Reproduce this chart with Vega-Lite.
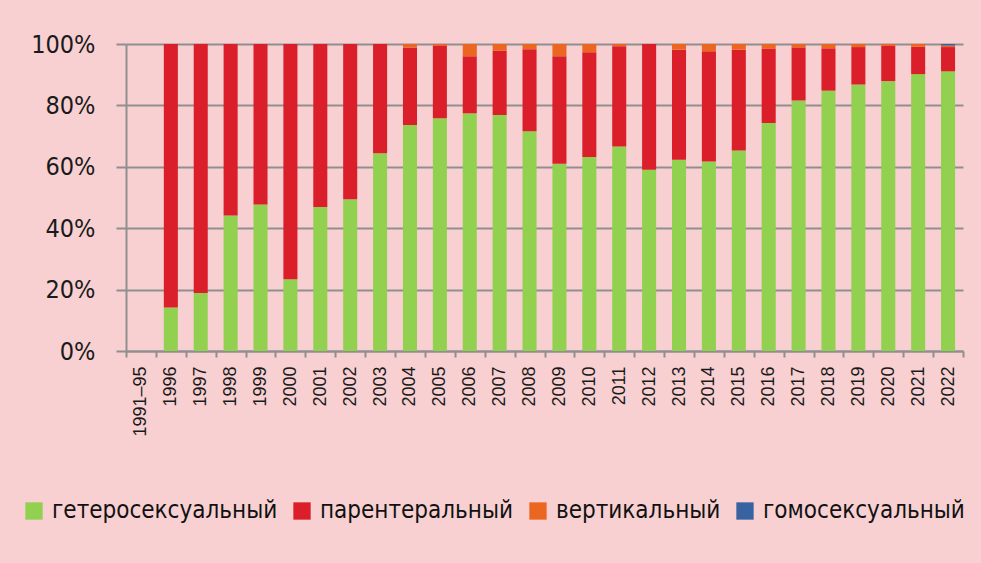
{
  "$schema": "https://vega.github.io/schema/vega-lite/v6.json",
  "width": 837,
  "height": 307,
  "autosize": "none",
  "padding": {"left": 126, "top": 44, "right": 18, "bottom": 212},
  "background": "#f8d0d2",
  "data": {"values": [
    {"year": "1991–95", "type": "гетеросексуальный", "k": 1, "value": 0},
    {"year": "1996", "type": "гетеросексуальный", "k": 1, "value": 14.2}, {"year": "1996", "type": "парентеральный", "k": 2, "value": 85.8},
    {"year": "1997", "type": "гетеросексуальный", "k": 1, "value": 18.9}, {"year": "1997", "type": "парентеральный", "k": 2, "value": 81.1},
    {"year": "1998", "type": "гетеросексуальный", "k": 1, "value": 44.1}, {"year": "1998", "type": "парентеральный", "k": 2, "value": 55.9},
    {"year": "1999", "type": "гетеросексуальный", "k": 1, "value": 47.7}, {"year": "1999", "type": "парентеральный", "k": 2, "value": 52.3},
    {"year": "2000", "type": "гетеросексуальный", "k": 1, "value": 23.4}, {"year": "2000", "type": "парентеральный", "k": 2, "value": 76.6},
    {"year": "2001", "type": "гетеросексуальный", "k": 1, "value": 46.9}, {"year": "2001", "type": "парентеральный", "k": 2, "value": 53.1},
    {"year": "2002", "type": "гетеросексуальный", "k": 1, "value": 49.4}, {"year": "2002", "type": "парентеральный", "k": 2, "value": 50.6},
    {"year": "2003", "type": "гетеросексуальный", "k": 1, "value": 64.4}, {"year": "2003", "type": "парентеральный", "k": 2, "value": 35.6},
    {"year": "2004", "type": "гетеросексуальный", "k": 1, "value": 73.6}, {"year": "2004", "type": "парентеральный", "k": 2, "value": 25.3}, {"year": "2004", "type": "вертикальный", "k": 3, "value": 1.1},
    {"year": "2005", "type": "гетеросексуальный", "k": 1, "value": 75.8}, {"year": "2005", "type": "парентеральный", "k": 2, "value": 23.7}, {"year": "2005", "type": "вертикальный", "k": 3, "value": 0.5},
    {"year": "2006", "type": "гетеросексуальный", "k": 1, "value": 77.4}, {"year": "2006", "type": "парентеральный", "k": 2, "value": 18.6}, {"year": "2006", "type": "вертикальный", "k": 3, "value": 4.0},
    {"year": "2007", "type": "гетеросексуальный", "k": 1, "value": 76.9}, {"year": "2007", "type": "парентеральный", "k": 2, "value": 21.0}, {"year": "2007", "type": "вертикальный", "k": 3, "value": 2.1},
    {"year": "2008", "type": "гетеросексуальный", "k": 1, "value": 71.6}, {"year": "2008", "type": "парентеральный", "k": 2, "value": 26.7}, {"year": "2008", "type": "вертикальный", "k": 3, "value": 1.7},
    {"year": "2009", "type": "гетеросексуальный", "k": 1, "value": 61.0}, {"year": "2009", "type": "парентеральный", "k": 2, "value": 35.0}, {"year": "2009", "type": "вертикальный", "k": 3, "value": 4.0},
    {"year": "2010", "type": "гетеросексуальный", "k": 1, "value": 63.2}, {"year": "2010", "type": "парентеральный", "k": 2, "value": 34.1}, {"year": "2010", "type": "вертикальный", "k": 3, "value": 2.7},
    {"year": "2011", "type": "гетеросексуальный", "k": 1, "value": 66.6}, {"year": "2011", "type": "парентеральный", "k": 2, "value": 32.7}, {"year": "2011", "type": "вертикальный", "k": 3, "value": 0.7},
    {"year": "2012", "type": "гетеросексуальный", "k": 1, "value": 59.0}, {"year": "2012", "type": "парентеральный", "k": 2, "value": 41.0},
    {"year": "2013", "type": "гетеросексуальный", "k": 1, "value": 62.3}, {"year": "2013", "type": "парентеральный", "k": 2, "value": 35.85}, {"year": "2013", "type": "вертикальный", "k": 3, "value": 1.85},
    {"year": "2014", "type": "гетеросексуальный", "k": 1, "value": 61.7}, {"year": "2014", "type": "парентеральный", "k": 2, "value": 35.9}, {"year": "2014", "type": "вертикальный", "k": 3, "value": 2.4},
    {"year": "2015", "type": "гетеросексуальный", "k": 1, "value": 65.3}, {"year": "2015", "type": "парентеральный", "k": 2, "value": 32.85}, {"year": "2015", "type": "вертикальный", "k": 3, "value": 1.85},
    {"year": "2016", "type": "гетеросексуальный", "k": 1, "value": 74.3}, {"year": "2016", "type": "парентеральный", "k": 2, "value": 24.2}, {"year": "2016", "type": "вертикальный", "k": 3, "value": 1.5},
    {"year": "2017", "type": "гетеросексуальный", "k": 1, "value": 81.6}, {"year": "2017", "type": "парентеральный", "k": 2, "value": 17.3}, {"year": "2017", "type": "вертикальный", "k": 3, "value": 1.1},
    {"year": "2018", "type": "гетеросексуальный", "k": 1, "value": 84.8}, {"year": "2018", "type": "парентеральный", "k": 2, "value": 13.8}, {"year": "2018", "type": "вертикальный", "k": 3, "value": 1.4},
    {"year": "2019", "type": "гетеросексуальный", "k": 1, "value": 86.8}, {"year": "2019", "type": "парентеральный", "k": 2, "value": 12.2}, {"year": "2019", "type": "вертикальный", "k": 3, "value": 1.0},
    {"year": "2020", "type": "гетеросексуальный", "k": 1, "value": 87.9}, {"year": "2020", "type": "парентеральный", "k": 2, "value": 11.5}, {"year": "2020", "type": "вертикальный", "k": 3, "value": 0.6},
    {"year": "2021", "type": "гетеросексуальный", "k": 1, "value": 90.2}, {"year": "2021", "type": "парентеральный", "k": 2, "value": 8.9}, {"year": "2021", "type": "вертикальный", "k": 3, "value": 0.9},
    {"year": "2022", "type": "гетеросексуальный", "k": 1, "value": 91.1}, {"year": "2022", "type": "парентеральный", "k": 2, "value": 7.9}, {"year": "2022", "type": "вертикальный", "k": 3, "value": 0.5}, {"year": "2022", "type": "гомосексуальный", "k": 4, "value": 0.5}
  ]},
  "mark": {"type": "bar", "width": {"band": 0.47}},
  "encoding": {
    "x": {
      "field": "year", "type": "nominal", "sort": null,
      "scale": {"paddingInner": 0, "paddingOuter": 0},
      "axis": {
        "title": null, "labelAngle": -90, "labelFont": "Liberation Sans", "labelFontSize": 18, "labelColor": "#1a1a1a",
        "labelPadding": 9, "tickBand": "extent", "tickSize": 6, "tickWidth": 2, "tickColor": "#8f8f8f",
        "domainColor": "#8f8f8f", "domainWidth": 2, "grid": false
      }
    },
    "y": {
      "field": "value", "type": "quantitative", "stack": "zero",
      "scale": {"domain": [0, 100], "nice": false},
      "axis": {
        "title": null, "values": [0, 20, 40, 60, 80, 100], "labelExpr": "datum.value + '%'",
        "labelFont": "DejaVu Sans Condensed", "labelFontSize": 25, "labelColor": "#1a1a1a", "labelPadding": 21,
        "tickSize": 10, "tickWidth": 2, "tickColor": "#8f8f8f", "domainColor": "#8f8f8f", "domainWidth": 2,
        "grid": true, "gridColor": "#8f8f8f", "gridWidth": 2
      }
    },
    "order": {"field": "k", "type": "quantitative", "sort": "ascending"},
    "color": {
      "field": "type", "type": "nominal",
      "sort": ["гетеросексуальный", "парентеральный", "вертикальный", "гомосексуальный"],
      "scale": {
        "domain": ["гетеросексуальный", "парентеральный", "вертикальный", "гомосексуальный"],
        "range": ["#92d050", "#da1f2a", "#eb6620", "#3863a0"]
      },
      "legend": {
        "title": null, "orient": "none", "legendX": -104, "legendY": 455, "direction": "horizontal",
        "symbolType": "square", "symbolSize": 300, "symbolStrokeWidth": 0, "symbolOpacity": 1,
        "labelFont": "DejaVu Sans Condensed", "labelFontSize": 24, "labelColor": "#111111",
        "labelOffset": 6, "columnPadding": 12, "padding": 0, "labelLimit": 400
      }
    }
  },
  "config": {"view": {"stroke": null}}
}
